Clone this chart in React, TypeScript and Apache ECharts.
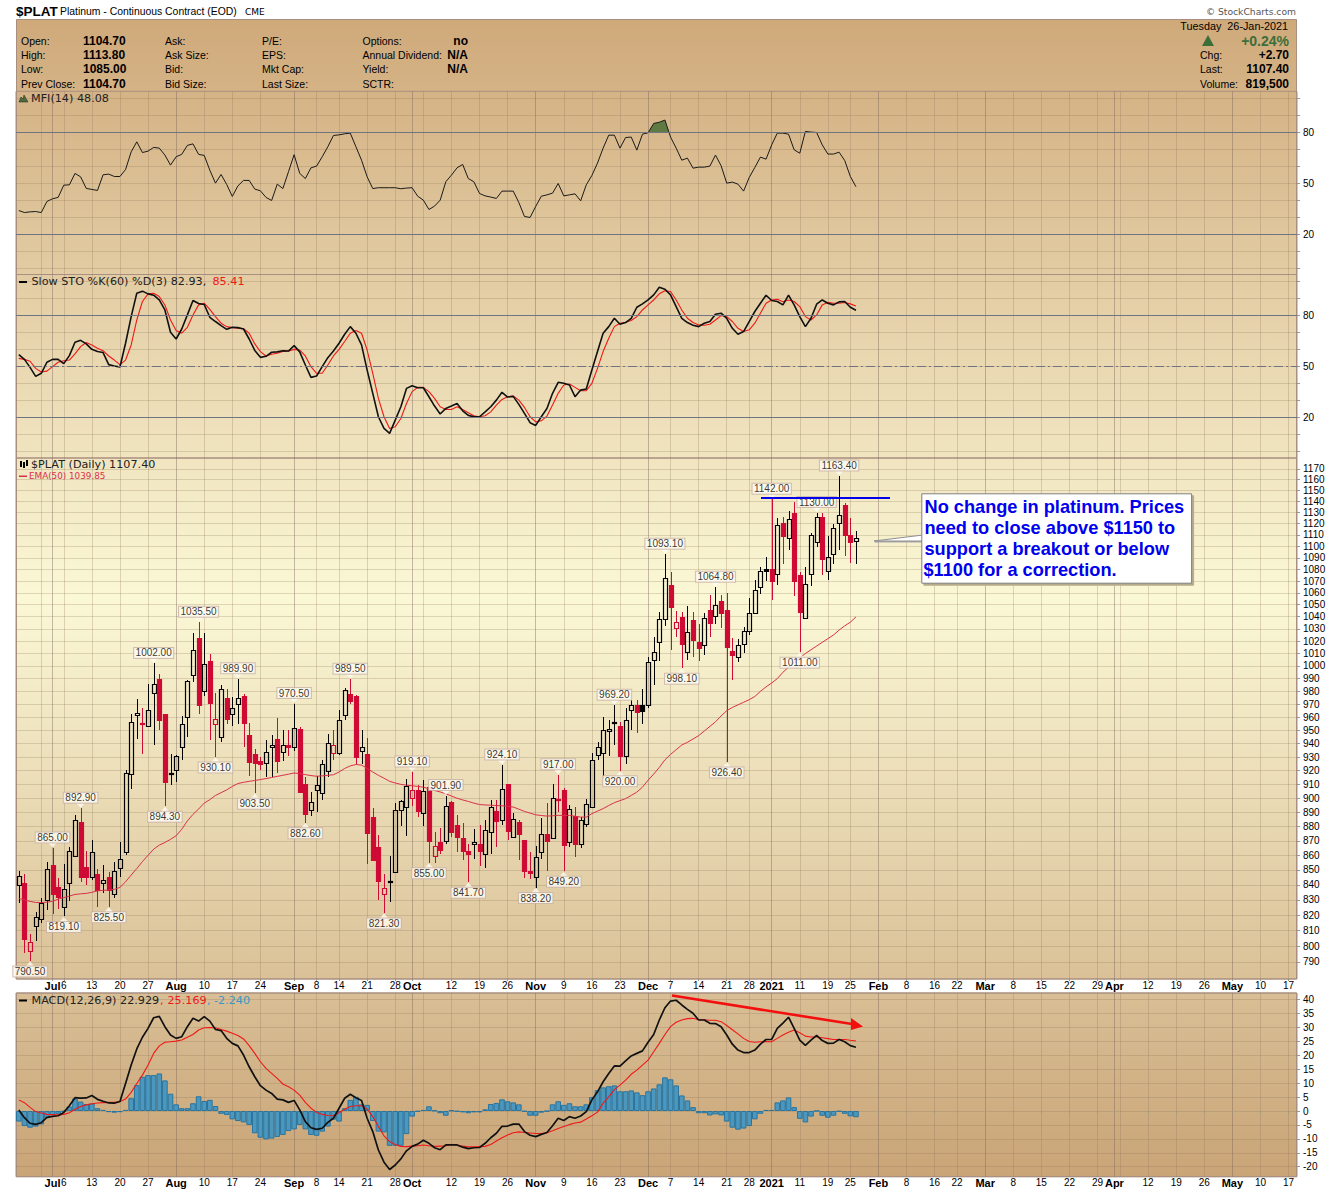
import React, { useEffect, useRef } from "react";
import * as echarts from "echarts";

const holidays = ["2020-07-03", "2020-09-07", "2020-11-26", "2020-12-25", "2021-01-01", "2021-01-18", "2021-02-15", "2021-04-02"];
const firstDay = "2020-06-23";
const slotCount = 228;

const monthMarks: [string, string][] = [
  ["2020-07-01", "Jul"], ["2020-08-03", "Aug"], ["2020-09-01", "Sep"], ["2020-10-01", "Oct"], ["2020-11-02", "Nov"], ["2020-12-01", "Dec"],
  ["2021-01-04", "2021"], ["2021-02-01", "Feb"], ["2021-03-01", "Mar"], ["2021-04-01", "Apr"], ["2021-05-03", "May"],
];
const weekMarks: [string, string][] = [
  ["2020-07-06", "6"], ["2020-07-13", "13"], ["2020-07-20", "20"], ["2020-07-27", "27"], ["2020-08-10", "10"], ["2020-08-17", "17"], ["2020-08-24", "24"],
  ["2020-09-08", "8"], ["2020-09-14", "14"], ["2020-09-21", "21"], ["2020-09-28", "28"], ["2020-10-12", "12"], ["2020-10-19", "19"], ["2020-10-26", "26"],
  ["2020-11-09", "9"], ["2020-11-16", "16"], ["2020-11-23", "23"], ["2020-12-07", "7"], ["2020-12-14", "14"], ["2020-12-21", "21"], ["2020-12-28", "28"],
  ["2021-01-11", "11"], ["2021-01-19", "19"], ["2021-01-25", "25"], ["2021-02-08", "8"], ["2021-02-16", "16"], ["2021-02-22", "22"],
  ["2021-03-08", "8"], ["2021-03-15", "15"], ["2021-03-22", "22"], ["2021-03-29", "29"], ["2021-04-12", "12"], ["2021-04-19", "19"], ["2021-04-26", "26"],
  ["2021-05-10", "10"], ["2021-05-17", "17"],
];
const unlabelledWeeks = ["2020-06-29", "2020-10-05", "2021-04-05"];

const opens = [
  840, 841.5, 796.6, 813, 817.3, 830.2, 853.6, 838.4, 825, 841.4,
  859.8, 882.9, 852.3, 845.2, 847.6, 841.3, 845, 834.2, 851.5, 862.5,
  917.8, 962, 955.9, 953.6, 979, 990, 962.8, 917.8, 920.8, 937.8,
  960.5, 993.2, 1022.2, 980.5, 1004.3, 954.9, 945, 974.6, 962.8, 970.5,
  976.7, 946.2, 932.2, 926.8, 925.3, 937.6, 943.5, 934, 939.3, 937.6,
  951.3, 910, 891.4, 906.2, 904, 919.8, 932.8, 932.8, 961.8, 977.7,
  976.1, 934.5, 932.2, 886.7, 865.6, 834.2, 842, 848.7, 891.4, 893.6,
  900.5, 905.6, 889.8, 908, 859.8, 869, 870, 897.2, 880.9, 871.6,
  862.8, 868, 867.7, 861.1, 876.3, 891, 884.8, 910, 872.8, 882.9,
  870.5, 849, 845.3, 862.5, 874.6, 871.6, 899.3, 905.6, 869.5, 887.2,
  867.5, 881.4, 894, 931.2, 932.8, 949.7, 955.7, 953.2, 930.5, 965.2,
  969.7, 969.2, 969.5, 1005, 1019.5, 1038.3, 1066.6, 1030.8, 1039.4, 1010.8,
  1037, 1019.2, 1016.5, 1045.3, 1041, 1053, 1046, 1012.4, 1006.8, 1018,
  1028.6, 1042.8, 1064.6, 1080.3, 1080.3, 1076.3, 1120.6, 1107, 1129.7, 1074.9,
  1039.2, 1076.3, 1104, 1126, 1079, 1093, 1120.3, 1136.9, 1110, 1104.7,
];
const closes = [
  846, 804.7, 802.8, 819, 828, 851, 834, 831.6, 837.5, 863,
  884.3, 845.6, 845, 862.3, 836.7, 843, 836.7, 849.6, 857.7, 918.2,
  956.7, 963.5, 954.9, 965.9, 986, 958, 911.7, 918.5, 931, 954.9,
  988.4, 1013, 969.5, 1001.8, 971, 959, 982.1, 958.7, 967.4, 975.1,
  955.6, 926.6, 925.6, 924.6, 933.4, 939.3, 927.3, 939, 937.6, 952,
  904.2, 889.1, 897.6, 909.8, 924.6, 940.5, 939.3, 958.2, 981.3, 972.6,
  930.2, 937.7, 875.6, 856.6, 842.4, 838.2, 842.9, 891.4, 897.9, 909,
  905.6, 891.2, 904.9, 869.8, 866.7, 863.4, 894.3, 876, 872.6, 863,
  861, 869.5, 862.8, 877.2, 893.6, 884, 906.3, 877, 885.4, 874.9,
  849.3, 847.8, 859, 875, 870, 900, 898.4, 867.2, 892.6, 868,
  884.3, 895.7, 927.8, 937.2, 950.5, 951.2, 956.7, 930.7, 958.2, 969.5,
  964, 964.9, 1003.5, 1011.6, 1037.8, 1072.3, 1048.3, 1036, 1017.8, 1027.2,
  1021, 1014.4, 1038.6, 1035, 1049.4, 1042.8, 1015.5, 1008.9, 1016.5, 1028.6,
  1042.8, 1062, 1078.3, 1078.3, 1070.3, 1118.5, 1109, 1124, 1070.3, 1044.2,
  1067.2, 1109.7, 1125.8, 1089, 1091, 1115.8, 1127.6, 1110.3, 1104, 1107.4,
];
const lows = [
  828, 795.3, 790.5, 803.4, 815, 823.3, 821, 823.7, 819.1, 829.4,
  859, 842, 839.8, 843, 825.4, 834.5, 825.5, 831.3, 845.2, 860,
  906.6, 943.5, 932.2, 953, 939, 950, 894.3, 909.3, 912, 927.8,
  945, 987.4, 962.3, 976.4, 942.5, 930.1, 941.3, 954.7, 953, 954.7,
  937.6, 916, 903.5, 920.2, 915.5, 915, 918.3, 926.8, 930.7, 934.5,
  904, 882.6, 887.6, 890.5, 899, 915, 927.8, 931.5, 957.7, 970,
  924.7, 924.7, 853.9, 856.6, 829.8, 821.3, 828.7, 848.7, 880.2, 873.5,
  894.6, 887, 880.2, 855, 854.8, 861, 868, 872.8, 862, 857,
  841.7, 857.2, 852.5, 851.5, 861.1, 865.8, 880.9, 870.5, 872, 857,
  844.6, 843.6, 838.2, 857.7, 849.3, 871, 890.5, 849.2, 865.8, 859,
  864.8, 879.8, 893.9, 927.8, 914, 931, 938.7, 920, 924.7, 950.5,
  948, 955, 967.4, 984.7, 1004, 1032.5, 1012.7, 1023.5, 998.1, 1004.6,
  1007.3, 1004, 1008.7, 1023.5, 1034.4, 1030.8, 926.4, 988.7, 1003, 1010,
  1024.9, 1042.8, 1059.4, 1070.3, 1053.9, 1066.6, 1085, 1096.8, 1057.5, 1011,
  1039.2, 1065.8, 1099, 1075, 1071, 1084.6, 1096.8, 1091.5, 1085.5, 1085,
];
const highs = [
  849, 847.5, 807.5, 821.7, 831.5, 855.4, 865, 844.9, 854.3, 865.8,
  888.1, 892.9, 862.8, 870.5, 851, 853.2, 848.7, 855.4, 868.9, 920.7,
  962.3, 974.3, 966.7, 986, 1002, 994, 962.8, 932.2, 931.5, 961,
  988.7, 1026.4, 1035.5, 1026.4, 1009.2, 979, 985.3, 982.1, 975.6, 989.9,
  978.2, 955.9, 936.3, 930.2, 942.5, 946.2, 959.7, 950, 950, 970.5,
  952.5, 915.4, 904.7, 915.8, 927.8, 947, 950, 965.4, 983, 989.5,
  977, 950, 944.5, 892.9, 873.9, 847.5, 859.3, 896.5, 898.8, 914,
  919.1, 909.3, 912.9, 910, 875.8, 878.6, 901.9, 897.7, 888, 882.1,
  868, 878.4, 881, 884.5, 898.4, 898.8, 924.1, 910.5, 889.5, 884.5,
  870.5, 862.3, 866.5, 885.7, 896.5, 910.5, 917, 907.4, 895.3, 893.6,
  887, 899.3, 933, 941.2, 960, 958, 969.2, 956.5, 966.7, 973,
  973.6, 982, 1007, 1023.5, 1043.6, 1093.1, 1077.7, 1044.4, 1043.6, 1048.9,
  1043.6, 1034.4, 1042.8, 1058, 1064.8, 1058, 1060, 1022.9, 1021.9, 1031.7,
  1055.3, 1070.9, 1081.7, 1090.9, 1142, 1124.8, 1125.8, 1131.5, 1139.4, 1078,
  1082.3, 1112, 1130, 1129.4, 1109, 1119.7, 1163.4, 1139, 1124.8, 1113.8,
];
// k = black candle, r = red candle
const candleTones = "krrkkkrrkk" + "krrkrkrkkk" + "kkrkkrrkkk" + "kkrkrrkrkk" + "rrrrkkrkrk" + "rrkkkkrkkr" + "rkrrrrkkkk" + "rrkrrrkrrr" + "rkrkkrkrkr" + "rrkkrkrrkr" + "kkkkkkkrkk" + "rkkkkkrrrk" + "rrkrkrrrkk" + "kkkkrkrkrr" + "kkkrkkkrrk";

const ema50 = [
  830.9, 830, 829, 828.3, 828.2, 828.5, 829, 830.5, 831.5, 832.5,
  833.6, 834, 834.3, 835, 836, 836.3, 836.6, 837, 838.3, 842,
  846.6, 851, 855.7, 860, 864.2, 867, 868.8, 871, 873.5, 878,
  883.9, 888.5, 892.3, 896.5, 899, 902, 904, 906, 908.5, 910.6,
  911.5, 912.2, 912.8, 913.5, 914.2, 915, 915.8, 916.6, 917.4, 918.3,
  917.8, 917.1, 916.4, 915.9, 916.2, 916.6, 917, 919, 921.6, 923.5,
  924.5, 924.1, 921.6, 919, 916.6, 914.5, 912.2, 911, 910, 909.4,
  909, 908.5, 908, 906.8, 905.6, 904.5, 903.2, 901.6, 900, 898.8,
  897.7, 896.5, 895.5, 895.2, 895, 894.8, 894.6, 894.2, 893.7, 892.2,
  890.6, 889.4, 888.2, 887.7, 887.3, 887.5, 887.8, 887.8, 887.8, 887.2,
  886.6, 886.6, 889, 890.8, 892.6, 894.8, 896.8, 898.3, 899.7, 902,
  904.4, 908, 913, 917.5, 922.4, 928, 932, 935.5, 939, 941,
  943.5, 946, 949.5, 953, 956.5, 961, 965, 967.5, 969.5, 971.5,
  973.5, 976, 980, 983.5, 986.5, 990, 995, 999, 1003, 1006.5,
  1010, 1013, 1016, 1019, 1022, 1025, 1029, 1032.5, 1035.5, 1039.85,
];
const mfi = [
  34.1, 32.9, 33.3, 33.5, 32.9, 39.4, 41, 41.8, 49, 49.2,
  55.9, 53.9, 47.1, 46.5, 45.9, 55.1, 55.5, 54.1, 54.1, 58.2,
  68.6, 74.5, 68.2, 69, 71.2, 70.8, 66.7, 60.8, 65.7, 67.1,
  72.4, 73.3, 67.1, 66.5, 57.8, 50.2, 55.3, 49.4, 42.4, 48.6,
  51.8, 51.8, 46.7, 45.7, 41.8, 40, 49.6, 47, 56.9, 66.9,
  55.9, 52.9, 59.2, 60.2, 65.7, 71.6, 78.2, 78.6, 79.2, 79.6,
  71.6, 63.7, 53.9, 47, 47.5, 47.5, 47.5, 47.5, 46.9, 47.3,
  47.5, 42.5, 40.2, 34.7, 36.7, 40.2, 51, 54.9, 59.2, 61.2,
  52.9, 51, 44.1, 42.7, 42, 41.2, 45.5, 45.5, 45.5, 38.8,
  30.6, 30, 36.5, 42.5, 43.3, 44.3, 50, 42.7, 43.3, 43.9,
  39.8, 49.2, 54.7, 62, 70.8, 78.4, 78.4, 70.8, 77, 77.3,
  69.6, 79, 79.8, 85.3, 86, 87.3, 77.3, 70.8, 63.7, 64.9,
  59, 59.6, 59.6, 60.2, 66.7, 60.4, 50.2, 50.8, 49.6, 45.5,
  53.5, 59.4, 65.5, 64.3, 72.7, 79.6, 79.6, 79, 69.8, 67.8,
  80.6, 80.2, 80, 72.7, 67.3, 67.3, 68.4, 63.5, 54.1, 48.08,
];
const stoK = [
  56.8, 54, 49.3, 44, 45.8, 52.3, 54, 54, 51.5, 56.2,
  64.1, 65.2, 63.1, 59.9, 58.6, 58, 50.9, 50.1, 49.5, 63.5,
  79.2, 93, 94.2, 92.6, 91.8, 89, 83.1, 70, 66, 71.9,
  80.2, 88.7, 86.9, 86.3, 78.8, 76.3, 73.9, 71.7, 72.9, 72.7,
  71.9, 66, 59.3, 55.2, 55.8, 58.2, 58.4, 59.1, 58.9, 62.1,
  58.4, 50.7, 43.4, 44.2, 49.7, 55, 58.9, 63.5, 68.8, 73.3,
  69.4, 62.5, 47.7, 34, 20.2, 13.3, 10.4, 18.2, 26.1, 36.9,
  38.5, 37.3, 37.3, 32, 26.5, 21.8, 25.1,
  26.5, 28, 23.7, 21, 20.2, 20.2, 23.1, 26.1, 30, 34.6,
  31.8, 32.2, 27.5, 22.2, 16.7, 15.1, 20.2, 25.1, 34, 40.5,
  39.9, 38.9, 32, 35.9, 36.5, 47.7, 58.6, 69.4, 73.3, 78.2,
  74.7, 75.7, 78.2, 84.7, 86.7, 89, 92, 96.5, 95.3, 92,
  85.1, 78.2, 75.7, 74.1, 73.3, 75.3, 76.3, 80.6, 81.2, 78.2,
  72.3, 68.8, 70.4, 76.3, 82.2, 87.1, 91.8, 88.7, 88.1, 86.1,
  91.8, 86.1, 79.2, 73.3, 78.2, 86.5, 89, 87.1, 86.1, 87.9,
  88.1, 84.7, 82.93,
];
const stoD = [
  54.6, 54, 52.9, 48.7, 46.6, 47.1, 49.7, 52.3, 53.2, 53.6,
  57.2, 61.5, 63.9, 62.5, 60.5, 59.1, 56, 53.6, 50.9, 53.6,
  62.5, 77.2, 88.1, 92.6, 93, 91, 86, 77.2, 71, 69.4,
  72.9, 80.2, 86.1, 87.1, 83.5, 79.2, 75.3, 73.3, 72.7, 72.3,
  72.1, 69.4, 63.1, 58.6, 56, 57, 57.6, 58.6, 58.9, 59.9,
  59.5, 56, 49.7, 45.8, 45.8, 50.7, 56, 59.9, 64.5, 69.4,
  71, 69.4, 59.5, 45.8, 31, 20.2, 13.3, 14.3, 19.2, 28,
  35, 37.5, 37.5, 35, 31, 26.1, 24.5,
  24.5, 26.1, 24.5, 22.6, 20.8, 20.2, 20.8, 23.1, 27.1, 30.4,
  32, 32.4, 30, 25.7, 20.2, 17.2, 17.8, 20.6, 27.1, 34,
  38.9, 39.5, 37.5, 35.5, 35.5, 39.9, 48.7, 58.6, 66.4, 73.3,
  75.3, 75.9, 76.9, 79.2, 83.1, 86.1, 89, 92.6, 94.4, 94,
  89, 83.1, 78.2, 75.7, 74.3, 74.1, 74.7, 77.2, 79.8, 79.2,
  76.3, 72.3, 70.4, 71.4, 75.3, 81.2, 87.1, 89, 89.4, 87.9,
  89, 88.1, 85.1, 79.2, 77.2, 80.2, 86.1, 87.7, 87.1, 87.1,
  87.5, 86.7, 85.41,
];
const macdLine = [
  0.4, -2.4, -4.4, -4.8, -4.2, -2.3, -1.9, -1.7, -0.5, 1.9,
  4.8, 4.6, 4.7, 5.6, 4.2, 3.5, 2.9, 2.8, 3.4, 9.9,
  16.5, 22.3, 26.5, 29.7, 33.5, 34, 30.3, 27.3, 26.1, 26.7,
  30.3, 33.3, 32.3, 33.9, 32.3, 29.3, 28.9, 26.1, 24.3, 23.4,
  20.1, 15.9, 12.3, 9.1, 7.5, 6.3, 4.3, 4, 3.1, 3.8,
  0.4, -3.8, -6, -6.6, -6.2, -4.1, -2.6, 1, 4.6, 6,
  4.8, 3.8, -2.6, -7.4, -14, -18.4, -21, -19.4, -17.2, -14.3,
  -12.7, -11.9, -10.5, -11.6, -13.2, -13.9, -12.2,
  -12.2, -12.2, -13, -13.5, -13.2, -13.1, -11.6, -9.6, -8, -5.5,
  -5.4, -4.7, -4.7, -7.4, -8.7, -9.2, -8.4, -7.7, -5.3, -2.6,
  -3.4, -2, -2.6, -1.8, -0.2, 4, 6.9, 10.5, 13.5, 16.2,
  16.1, 18, 19.8, 20.7, 21.6, 24.7, 27.5, 32.7, 37.1, 39.5,
  39.8, 38.1, 36.5, 35.1, 32.7, 32.7, 31.5, 31.4, 30.3, 27.3,
  24, 21.9, 21, 21, 21.9, 24, 25.7, 25.7, 29.7, 31.6,
  33.7, 29.7, 25.5, 23.6, 25.5, 27.2, 25.3, 24.3, 24.4, 25.7,
  24.9, 23.5, 22.929,
];
const macdSignal = [
  4, 3, 1.3, -0.2, -0.7, -1.2, -1.3, -1.4, -1.2, -0.6,
  0.6, 1.6, 2.2, 2.6, 2.9, 3, 3.1, 3.1, 3.4, 4.3,
  6.7, 9.9, 12.9, 16.5, 20.7, 23.4, 24.7, 24.9, 25.1, 25.5,
  26.5, 27.5, 29.1, 29.9, 30, 29.9, 29.3, 28.7, 27.9, 27.1,
  25.9, 23.5, 20.7, 17.7, 15.3, 13.5, 11.7, 9.7, 8.7, 7.5,
  5.7, 3.1, 1, -0.5, -1.2, -1.6, -1.7, -0.6, 0.6, 1.6,
  1.9, 1.9, 0.7, -2, -5.6, -8.9, -11, -12, -12.7, -12.8,
  -12.6, -12.5, -12.2, -12.5, -12.7, -12.6, -12.5,
  -12, -12.2, -12.6, -12.9, -12.9, -12.8, -12.7, -12, -10.8, -9.6,
  -8.6, -7.8, -7.5, -7.7, -7.9, -8.1, -8.1, -7.8, -7.1, -6.3,
  -5.6, -4.9, -4.3, -4, -2.9, -1.7, -0.4, 2.8, 5.1, 7.7,
  9.3, 11.1, 13.2, 14.7, 16.5, 18.3, 21.3, 24.3, 27.5, 30.3,
  31.9, 32.7, 33.2, 33.3, 32.8, 32.8, 32.6, 32.6, 32.1, 30.7,
  29.2, 27.7, 26.1, 25, 24.7, 24.9, 25, 24.9, 26.1, 27.3,
  28.3, 29.1, 28.1, 26.9, 26.6, 26.6, 26.3, 26, 25.7, 25.7,
  25.7, 25.4, 25.169,
];
const macdHist = [
  -3.8, -5.4, -6, -5.6, -4.8, -2.6, -1.4, -1, -0.2, 1.6,
  4.5, 3.4, 2.5, 2.7, 1, 0.4, -0.4, -0.6, -0.4, 0.4,
  4.6, 9.3, 12.3, 12.9, 12.9, 13.5, 11, 6.2, 2.4, 1,
  1, 2.8, 5.3, 3.6, 4, 1.8, -1, -1.4, -3, -3.6,
  -4.1, -5, -8, -9.6, -10.2, -9.9, -9.3, -8.6, -7.2, -6.6,
  -5, -6.6, -8.6, -8.9, -7.4, -5.6, -3.1, -3.8, 1, 4,
  5.1, 2.4, 2.2, -3.6, -7.4, -7.7, -12.5, -12.5, -12.5, -8.3,
  -2, -0.2, 0.4, 1.7, 0.2, -0.8, -1.7,
  0.2, -0.2, -0.5, -0.8, -0.5, -0.5, 0.6, 2.5, 2.9, 4.2,
  3.5, 3.1, 2.4, -0.2, -1.7, -1.7, -0.6, -0.1, 2.4, 3.5,
  2.2, 2.8, 1.7, 1.7, 2.4, 5, 7.5, 8.5, 8.9, 9.2,
  7.1, 7.1, 7.4, 6.7, 5.7, 7.1, 8.1, 9.6, 12.1, 11.4,
  9.2, 5.6, 3.8, 1.4, -0.8, -0.8, -1.6, -1.2, -1.6, -3.8,
  -6, -6.7, -6.3, -5.4, -3, -1, 0.4, 0.4, 3.1, 3.8,
  4.9, 1.4, -2.8, -4.1, -2, 0, -1.7, -2.4, -1.7, -0.2,
  -1, -1.9, -2.24,
];

const highNotes: [number, number][] = [[6, 865], [11, 892.9], [24, 1002], [32, 1035.5], [39, 989.9], [49, 970.5], [59, 989.5], [70, 919.1], [76, 901.9], [86, 924.1], [96, 917], [106, 969.2], [115, 1093.1], [124, 1064.8], [134, 1142], [142, 1130], [146, 1163.4]];
const lowNotes: [number, number][] = [[2, 790.5], [8, 819.1], [16, 825.5], [26, 894.3], [35, 930.1], [42, 903.5], [51, 882.6], [65, 821.3], [73, 855], [80, 841.7], [92, 838.2], [97, 849.2], [107, 920], [118, 998.1], [126, 926.4], [139, 1011]];

const priceTicks = [1170, 1160, 1150, 1140, 1130, 1120, 1110, 1100, 1090, 1080, 1070, 1060, 1050, 1040, 1030, 1020, 1010, 1000, 990, 980, 970, 960, 950, 940, 930, 920, 910, 900, 890, 880, 870, 860, 850, 840, 830, 820, 810, 800, 790];
const macdTicks = [40, 35, 30, 25, 20, 15, 10, 5, 0, -5, -10, -15, -20];
const oscLabels = [20, 50, 80];
const oscTicks = [0, 10, 20, 30, 40, 50, 60, 70, 80, 90, 100];

const headerRows = ["Open:", "High:", "Low:", "Prev Close:"];
const headerValues = ["1104.70", "1113.80", "1085.00", "1104.70"];
const askRows = ["Ask:", "Ask Size:", "Bid:", "Bid Size:"];
const peRows = ["P/E:", "EPS:", "Mkt Cap:", "Last Size:"];
const optRows = ["Options:", "Annual Dividend:", "Yield:", "SCTR:"];
const optValues = ["no", "N/A", "N/A", ""];
const calloutLines = ["No change in platinum. Prices", "need to close above $1150 to", "support a breakout or below", "$1100 for a correction."];

const RED = "#CE0A35";
const SANS = '"Liberation Sans", Arial, sans-serif';
const VERA = '"DejaVu Sans", Verdana, sans-serif';

const buildDays = (): string[] => {
  const out: string[] = [];
  const d = new Date(firstDay + "T00:00:00Z");
  while (out.length < slotCount) {
    const s = d.toISOString().slice(0, 10);
    const w = d.getUTCDay();
    if (w !== 0 && w !== 6 && !holidays.includes(s)) out.push(s);
    d.setUTCDate(d.getUTCDate() + 1);
  }
  return out;
};

const PANELS = [
  { top: 91.3, height: 183.2 },
  { top: 274.5, height: 183.5 },
  { top: 458, height: 521 },
  { top: 993, height: 183.7 },
];
const X0 = 16;
const W = 1281;

export default function App() {
  const ref = useRef<HTMLDivElement>(null);
  useEffect(() => {
    document.body.style.margin = "0";
    const chart = echarts.init(ref.current!, undefined, { renderer: "svg" });
    const days = buildDays();
    const monthMap = new Map(monthMarks);
    const labelMap = new Map([...weekMarks, ...monthMarks]);
    const weekSet = new Set([...weekMarks.map((m) => m[0]), ...unlabelledWeeks]);

    const xAxes: any[] = [];
    PANELS.forEach((_, g) => {
      const showLabels = g >= 2;
      xAxes.push({
        type: "category",
        gridIndex: g,
        data: days,
        position: "bottom",
        axisLine: { show: false },
        axisTick: {
          show: showLabels,
          alignWithLabel: true,
          length: 2,
          interval: (_i: number, v: string) => labelMap.has(v),
          lineStyle: { color: "#998", width: 1 },
        },
        axisLabel: {
          show: showLabels,
          margin: 1,
          interval: (_i: number, v: string) => labelMap.has(v),
          formatter: (v: string) => (monthMap.has(v) ? `{b|${monthMap.get(v)}}` : labelMap.get(v) ?? ""),
          color: "#000",
          fontFamily: SANS,
          fontSize: 10,
          rich: { b: { fontFamily: SANS, fontSize: 11, fontWeight: "bold", color: "#000" } },
        },
        splitLine: {
          show: true,
          alignWithLabel: true,
          interval: (_i: number, v: string) => weekSet.has(v),
          lineStyle: { color: "rgba(140,115,90,0.27)", width: 1 },
        },
      });
      xAxes.push({
        type: "category",
        gridIndex: g,
        data: days,
        position: "top",
        axisLine: { show: false },
        axisTick: { show: false },
        axisLabel: { show: false },
        splitLine: {
          show: true,
          alignWithLabel: true,
          interval: (_i: number, v: string) => monthMap.has(v),
          lineStyle: { color: "rgba(125,100,90,0.42)", width: 1 },
        },
      });
    });

    const hLine = "rgba(140,115,90,0.26)";
    const yBase = (g: number, extra: any) => ({
      gridIndex: g,
      position: "right",
      axisLine: { show: false },
      splitLine: { show: true, lineStyle: { color: hLine, width: 1 } },
      ...extra,
    });
    const yAxes = [
      yBase(0, {
        type: "value", min: -3.53, max: 104.2,
        axisTick: { show: true, length: 3, customValues: oscTicks, lineStyle: { color: "#999" } },
        axisLabel: { customValues: oscLabels, color: "#000", fontFamily: SANS, fontSize: 10, margin: 6 },
      }),
      yBase(1, {
        type: "value", min: -4.1, max: 104,
        axisTick: { show: true, length: 3, customValues: oscTicks, lineStyle: { color: "#999" } },
        axisLabel: { customValues: oscLabels, color: "#000", fontFamily: SANS, fontSize: 10, margin: 6 },
      }),
      yBase(2, {
        type: "log", logBase: 10, min: 779.3, max: 1180.2,
        axisTick: { show: true, length: 3, customValues: priceTicks, lineStyle: { color: "#999" } },
        axisLabel: { customValues: priceTicks, color: "#000", fontFamily: SANS, fontSize: 10, margin: 6, formatter: (v: number) => String(Math.round(v)) },
      }),
      yBase(3, {
        type: "value", min: -23.6, max: 42.4,
        axisTick: { show: true, length: 3, customValues: macdTicks, lineStyle: { color: "#999" } },
        axisLabel: { customValues: macdTicks, color: "#000", fontFamily: SANS, fontSize: 10, margin: 6 },
      }),
    ];

    const refLines = (vals: number[], dashMid = false) => ({
      silent: true,
      symbol: "none",
      label: { show: false },
      animation: false,
      data: vals.map((v) => ({
        yAxis: v,
        lineStyle: { color: "#6F7480", width: 1, type: dashMid && v === 50 ? ([9, 3, 2, 3] as any) : "solid" },
      })),
    });

    const lineSeries = (name: string, xi: number, yi: number, data: number[], color: string, width: number, extra: any = {}) => ({
      type: "line", name, xAxisIndex: xi, yAxisIndex: yi, data,
      showSymbol: false, symbol: "none", silent: true,
      lineStyle: { color, width }, ...extra,
    });

    const candleData = opens.map((o, i) => [i, o, closes[i], lows[i], highs[i], candleTones[i] === "r" ? 1 : 0]);

    const renderCandle = (_p: any, api: any) => {
      const i = api.value(0);
      const o = api.value(1);
      const c = api.value(2);
      const tone = api.value(5) === 1 ? RED : "#000";
      const cx = Math.round(api.coord([i, o])[0]) + 0.5;
      const snap = (v: number) => Math.round(v) + 0.5;
      const yTop = snap(api.coord([i, Math.max(o, c)])[1]);
      const yBot = Math.max(snap(api.coord([i, Math.min(o, c)])[1]), yTop + 1);
      const yHigh = Math.round(api.coord([i, api.value(4)])[1]);
      const yLow = Math.round(api.coord([i, api.value(3)])[1]);
      const wick = { stroke: tone, lineWidth: 1, fill: "none" };
      return {
        type: "group",
        children: [
          { type: "line", shape: { x1: cx, y1: yHigh, x2: cx, y2: yTop }, style: wick },
          { type: "line", shape: { x1: cx, y1: yBot, x2: cx, y2: yLow }, style: wick },
          {
            type: "rect",
            shape: { x: cx - 2, y: yTop, width: 4, height: yBot - yTop },
            style: { fill: c < o ? tone : "none", stroke: tone, lineWidth: 1.2 },
          },
        ],
      };
    };

    const noteLabel = (pos: string) => ({
      show: true,
      position: pos,
      distance: 0,
      formatter: (p: any) => Number(p.value[1]).toFixed(2),
      color: "#000",
      fontFamily: SANS,
      fontSize: 10,
      lineHeight: 10,
      backgroundColor: "#FFFDF4",
      borderColor: "#C9B2A6",
      borderWidth: 1,
      padding: [0, 1.5, 0, 1.5],
    });

    const series: any[] = [
      {
        type: "custom",
        name: "MFI overbought fill",
        xAxisIndex: 0, yAxisIndex: 0,
        silent: true,
        data: [0],
        renderItem: (_p: any, api: any) => {
          const pts: number[][] = [];
          mfi.forEach((v, i) => {
            const prev = mfi[i - 1];
            if (prev !== undefined && (prev - 80) * (v - 80) < 0 && i > 100 && i < 120) {
              const a = api.coord([i - 1, prev]);
              const b = api.coord([i, v]);
              const t = (80 - prev) / (v - prev);
              pts.push([a[0] + (b[0] - a[0]) * t, a[1] + (b[1] - a[1]) * t]);
            }
            if (v > 80 && i > 100 && i < 120) pts.push(api.coord([i, v]));
          });
          return { type: "polygon", shape: { points: pts }, style: { fill: "#5F7A43", stroke: "none" } };
        },
      },
      lineSeries("MFI", 0, 0, mfi, "#1A1A1A", 1, { markLine: refLines([80, 20]) }),
      lineSeries("%K", 2, 1, stoK, "#111", 1.6, { markLine: refLines([80, 50, 20], true), z: 3 }),
      lineSeries("%D", 2, 1, stoD, "#F01818", 1.1, { z: 2 }),
      {
        type: "custom",
        name: "$PLAT",
        xAxisIndex: 4, yAxisIndex: 2,
        silent: true,
        data: candleData,
        encode: { x: 0, y: [1, 2, 3, 4] },
        renderItem: renderCandle,
        z: 3,
      },
      lineSeries("EMA(50)", 4, 2, ema50, "#D9304A", 1, { z: 4 }),
      {
        type: "scatter", name: "highs", xAxisIndex: 4, yAxisIndex: 2, silent: true,
        data: highNotes, symbol: "triangle", symbolRotate: 180, symbolSize: [9, 5], symbolOffset: [0, -3],
        itemStyle: { color: "#FFFDF4" }, label: noteLabel("top"), z: 6,
      },
      {
        type: "scatter", name: "lows", xAxisIndex: 4, yAxisIndex: 2, silent: true,
        data: lowNotes, symbol: "triangle", symbolSize: [9, 5], symbolOffset: [0, 3],
        itemStyle: { color: "#FFFDF4" }, label: noteLabel("bottom"), z: 6,
      },
      {
        type: "bar", name: "Histogram", xAxisIndex: 6, yAxisIndex: 3, data: macdHist, silent: true,
        barWidth: "100%", barGap: 0,
        itemStyle: { color: "#4B97BE", borderColor: "#2A749E", borderWidth: 1 },
      },
      lineSeries("Signal", 6, 3, macdSignal, "#F01818", 1.1, { z: 3 }),
      lineSeries("MACD", 6, 3, macdLine, "#111", 1.7, { z: 4 }),
    ];

    const bgFill = new echarts.graphic.LinearGradient(0, 19, 0, 1177, [
      { offset: 0, color: "#CFA97A" },
      { offset: 0.5, color: "#FBF8D6" },
      { offset: 1, color: "#C9A477" },
    ], true);

    const text = (t: string, x: number, y: number, font: string, fill = "#000", align = "left") => ({
      type: "text", z: 50, silent: true,
      style: { text: t, x, y, font, fill, textAlign: align, textVerticalAlign: "middle" },
    });

    const rows = [40.5, 55, 69, 84];
    const small = `10.5px ${SANS}`;
    const legend = `11.2px ${VERA}`;
    const graphics: any[] = [
      { type: "rect", z: -10, silent: true, shape: { x: 16.5, y: 19.5, width: 1280, height: 959.5 }, style: { fill: bgFill, stroke: "#A98F80", lineWidth: 1 } },
      { type: "rect", z: -10, silent: true, shape: { x: 16.5, y: 993, width: 1280, height: 183.7 }, style: { fill: bgFill, stroke: "#A98F80", lineWidth: 1 } },
      text("$PLAT", 16, 11, `bold 13.5px ${SANS}`),
      text("Platinum - Continuous Contract (EOD)", 60, 11, `10.4px ${SANS}`),
      text("CME", 245, 12, `9px ${VERA}`),
      text("© StockCharts.com", 1296, 11, `9.2px ${VERA}`, "#555", "right"),
    ];
    rows.forEach((y, i) => {
      graphics.push(text(headerRows[i], 21, y, small));
      graphics.push(text(headerValues[i], 83, y, `bold 12px ${SANS}`));
      graphics.push(text(askRows[i], 165, y, small));
      graphics.push(text(peRows[i], 262, y, small));
      graphics.push(text(optRows[i], 362.5, y, small));
      if (optValues[i]) graphics.push(text(optValues[i], 468, y, `bold 12px ${SANS}`, "#000", "right"));
    });
    graphics.push(
      text("Tuesday  26-Jan-2021", 1288, 26, `10.8px ${SANS}`, "#000", "right"),
      { type: "polygon", z: 50, silent: true, shape: { points: [[1202, 46], [1214, 46], [1208, 35]] }, style: { fill: "#3C6E3A" } },
      text("+0.24%", 1289, 41, `bold 14px ${SANS}`, "#3C6E3A", "right"),
      text("Chg:", 1200, 55, small),
      text("+2.70", 1289, 55, `bold 12px ${SANS}`, "#000", "right"),
      text("Last:", 1200, 69, small),
      text("1107.40", 1289, 69, `bold 12px ${SANS}`, "#000", "right"),
      text("Volume:", 1200, 84, small),
      text("819,500", 1289, 84, `bold 12px ${SANS}`, "#000", "right"),
      // panel legends
      { type: "polygon", z: 50, silent: true, shape: { points: [[19, 102], [21, 97], [23, 99], [24, 95], [28, 102]] }, style: { fill: "#4E6B3A", stroke: "#222", lineWidth: 0.5 } },
      text("MFI(14) 48.08", 31, 98.5, legend, "#222"),
      { type: "rect", z: 50, silent: true, shape: { x: 19, y: 281, width: 8, height: 2 }, style: { fill: "#000" } },
      text("Slow STO %K(60) %D(3) 82.93,", 31.5, 281.5, legend, "#222"),
      text("85.41", 212.5, 281.5, legend, "#F01818"),
      { type: "rect", z: 50, silent: true, shape: { x: 20, y: 461, width: 2, height: 6 }, style: { fill: "#000" } },
      { type: "rect", z: 50, silent: true, shape: { x: 23, y: 462, width: 2, height: 6 }, style: { fill: "#000" } },
      { type: "rect", z: 50, silent: true, shape: { x: 26, y: 460, width: 2, height: 6 }, style: { fill: "#000" } },
      text("$PLAT (Daily) 1107.40", 31, 464.5, legend, "#222"),
      { type: "rect", z: 50, silent: true, shape: { x: 19, y: 475.5, width: 8, height: 1.5 }, style: { fill: "#D9304A" } },
      text("EMA(50) 1039.85", 29, 476, `8.8px ${VERA}`, "#D9304A"),
      { type: "rect", z: 50, silent: true, shape: { x: 19, y: 999.5, width: 8, height: 2 }, style: { fill: "#000" } },
      text("MACD(12,26,9) 22.929", 31.5, 1000.5, legend, "#222"),
      text(",", 160, 1000.5, legend, "#F01818"),
      text("25.169", 167.5, 1000.5, legend, "#F01818"),
      text(",", 207, 1000.5, legend, "#3A96C8"),
      text("-2.240", 214, 1000.5, legend, "#3A96C8"),
      // annotations
      { type: "line", z: 40, silent: true, shape: { x1: 761, y1: 498, x2: 890, y2: 498 }, style: { stroke: "#0000EE", lineWidth: 2 } },
      { type: "line", z: 40, silent: true, shape: { x1: 672, y1: 995.5, x2: 852, y2: 1024 }, style: { stroke: "#F40F0F", lineWidth: 2.6 } },
      { type: "polygon", z: 40, silent: true, shape: { points: [[851, 1018], [863, 1026.5], [851, 1030]] }, style: { fill: "#F40F0F" } },
      { type: "polygon", z: 41, silent: true, shape: { points: [[874, 541], [923, 535], [923, 541]] }, style: { fill: "#FFFFFF", stroke: "#8E8E8E", lineWidth: 1, shadowBlur: 0, shadowColor: "#AAA", shadowOffsetX: 1, shadowOffsetY: 1 } },
      { type: "rect", z: 42, silent: true, shape: { x: 921.8, y: 493.8, width: 269.8, height: 89.4 }, style: { fill: "#FFFFFF", stroke: "#808080", lineWidth: 1, shadowBlur: 0, shadowColor: "#B5AC8C", shadowOffsetX: 2, shadowOffsetY: 2 } },
    );
    calloutLines.forEach((t, i) => graphics.push(text(t, i === 3 ? 923.5 : 924.5, [506.8, 527.8, 548.8, 570][i], `bold 18.2px ${SANS}`, "#0000EE")));

    chart.setOption({
      animation: false,
      backgroundColor: "#FFFFFF",
      grid: PANELS.map((p) => ({ left: X0, width: W, top: p.top, height: p.height, containLabel: false, show: true, backgroundColor: "transparent", borderColor: "#A98F80", borderWidth: 1 })),
      xAxis: xAxes,
      yAxis: yAxes,
      series,
      graphic: { elements: graphics },
    });
    return () => chart.dispose();
  }, []);
  return <div ref={ref} style={{ position: "absolute", left: 0, top: 0, width: 1340, height: 1192 }} />;
}
